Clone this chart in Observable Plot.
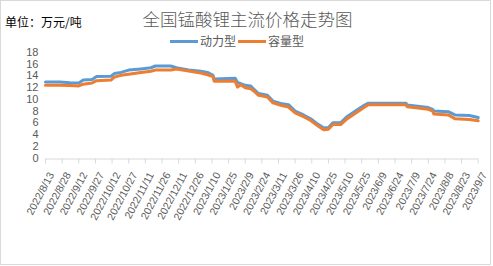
<!DOCTYPE html>
<html>
<head>
<meta charset="utf-8">
<script src="https://cdn.jsdelivr.net/npm/d3@7"></script>
<script src="https://cdn.jsdelivr.net/npm/@observablehq/plot@0.6"></script>
<style>
  html, body { margin: 0; padding: 0; background: #fff; }
  #wrap { position: relative; width: 493px; height: 266px; overflow: hidden; background: #fff; }
  #frame { position: absolute; left: 0; top: 0; width: 489px; height: 263px; border: 1px solid #d9d9d9; }
  #unit { position: absolute; left: 5px; top: 15px; font: 12px "Noto Sans CJK SC", sans-serif; color: #000; line-height: 14px; }
  #title { position: absolute; left: 0; width: 493px; top: 8px; text-align: center; padding-left: 1px;
           font: 300 17.5px "Noto Sans CJK SC", sans-serif; color: #595959; line-height: 22px; }
  #legend { position: absolute; left: 170px; top: 33px; font: 12px "Noto Sans CJK SC", sans-serif; color: #595959; line-height: 16px; white-space: nowrap; }
  .sw { display: inline-block; width: 28px; height: 3px; vertical-align: middle; margin-right: 2px; position: relative; top: -1px; }
  .item { display: inline-block; margin-right: 2px; }
  #plot { position: absolute; left: 0; top: 0; }
</style>
</head>
<body>
<div id="wrap">
  <div id="frame"></div>
  <div id="plot"></div>
  <div id="unit">单位：万元/吨</div>
  <div id="title">全国锰酸锂主流价格走势图</div>
  <div id="legend"></div>
</div>
<script>
// ---- data ----
const titleText = "全国锰酸锂主流价格走势图";
const unitText = "单位：万元/吨";
const seriesNames = ["动力型", "容量型"];
const seriesColors = ["#5B9BD5", "#ED7D31"];

const dates = [
  "2022-08-13","2022-08-26","2022-09-04","2022-09-12","2022-09-16","2022-09-24","2022-09-28",
  "2022-10-11","2022-10-14","2022-10-20","2022-10-27","2022-11-07","2022-11-16","2022-11-20",
  "2022-12-04","2022-12-09","2022-12-20","2022-12-31","2023-01-06","2023-01-11","2023-01-12",
  "2023-01-31","2023-02-02","2023-02-05","2023-02-09","2023-02-14","2023-02-17","2023-02-21",
  "2023-03-01","2023-03-06","2023-03-13","2023-03-20","2023-03-26","2023-04-03","2023-04-09",
  "2023-04-16","2023-04-21","2023-04-25","2023-04-29","2023-05-06","2023-05-12","2023-05-20",
  "2023-05-26","2023-05-31","2023-07-04","2023-07-05","2023-07-24","2023-07-28","2023-07-29",
  "2023-08-11","2023-08-17","2023-08-30","2023-09-07"
];
const powerType = [
  12.95,12.95,12.85,12.80,13.30,13.40,13.90,
  13.95,14.40,14.60,15.00,15.20,15.40,15.70,
  15.70,15.40,15.00,14.80,14.60,14.10,13.50,
  13.60,12.90,12.70,12.40,12.30,11.70,11.00,
  10.70,9.70,9.30,9.10,8.00,7.30,6.70,
  5.70,5.10,5.20,6.00,6.00,7.10,8.10,
  8.85,9.35,9.35,9.05,8.60,8.30,8.00,
  7.90,7.35,7.25,6.90
];
const capacityType = [
  12.40,12.40,12.35,12.30,12.60,12.80,13.20,
  13.30,13.80,14.10,14.30,14.60,14.80,15.00,
  15.00,15.20,14.85,14.50,14.20,13.90,13.10,
  13.10,12.10,12.50,12.00,11.80,11.40,10.70,
  10.40,9.40,9.00,8.70,7.70,7.00,6.40,
  5.40,4.80,4.90,5.70,5.70,6.70,7.70,
  8.50,9.10,9.10,8.75,8.30,8.00,7.50,
  7.35,6.70,6.55,6.35
];
const yTicks = [0, 2, 4, 6, 8, 10, 12, 14, 16, 18];
const xTickLabels = [
  "2022/8/13","2022/8/28","2022/9/12","2022/9/27","2022/10/12","2022/10/27","2022/11/11",
  "2022/11/26","2022/12/11","2022/12/26","2023/1/10","2023/1/25","2023/2/9","2023/2/24",
  "2023/3/11","2023/3/26","2023/4/10","2023/4/25","2023/5/10","2023/5/25","2023/6/9",
  "2023/6/24","2023/7/9","2023/7/24","2023/8/8","2023/8/23","2023/9/7"
];

// ---- build ----
const parseIso = d3.utcParse("%Y-%m-%d");
const parseTick = s => { const [y, m, d] = s.split("/").map(Number); return new Date(Date.UTC(y, m - 1, d)); };
const tickDates = xTickLabels.map(parseTick);
const tickRows = xTickLabels.map((s, i) => ({date: tickDates[i], label: s}));

const rows = [];
dates.forEach((d, i) => {
  rows.push({date: parseIso(d), value: powerType[i], series: seriesNames[0]});
});
dates.forEach((d, i) => {
  rows.push({date: parseIso(d), value: capacityType[i], series: seriesNames[1]});
});

const chart = Plot.plot({
  width: 493,
  height: 266,
  marginLeft: 45,
  marginRight: 15.3,
  marginTop: 52,
  marginBottom: 108.5,
  style: {fontFamily: "'Liberation Sans', Arial, sans-serif", color: "#595959", background: "transparent", overflow: "visible"},
  x: {type: "utc", domain: [tickDates[0], tickDates[tickDates.length - 1]], axis: null},
  y: {domain: [0, 18], axis: null},
  color: {domain: seriesNames, range: seriesColors},
  marks: [
    Plot.ruleY([0], {stroke: "#d9d9d9", strokeWidth: 1, dy: 1}),
    Plot.axisY({ticks: yTicks, tickSize: 0, tickPadding: 7, fontSize: 11, label: null}),
    Plot.axisX({ticks: tickDates, tickSize: 5, stroke: "#d9d9d9", strokeOpacity: 1, text: null, label: null, dy: 1}),
    Plot.text(tickRows, {x: "date", frameAnchor: "bottom", text: "label", rotate: -62,
                         textAnchor: "end", lineAnchor: "middle", fontSize: 10.5, fill: "#595959", dx: 6, dy: 15}),
    Plot.line(rows.filter(r => r.series === seriesNames[0]), {x: "date", y: "value", stroke: "series", strokeWidth: 3, strokeLinejoin: "round", strokeLinecap: "round"}),
    Plot.line(rows.filter(r => r.series === seriesNames[1]), {x: "date", y: "value", stroke: "series", strokeWidth: 3, strokeLinejoin: "round", strokeLinecap: "round"})
  ]
});
document.getElementById("plot").appendChild(chart);

document.getElementById("title").textContent = titleText;
document.getElementById("unit").textContent = unitText;
const legend = document.getElementById("legend");
seriesNames.forEach((name, i) => {
  const item = document.createElement("span");
  item.className = "item";
  const sw = document.createElement("span");
  sw.className = "sw";
  sw.style.background = seriesColors[i];
  item.appendChild(sw);
  item.appendChild(document.createTextNode(name));
  legend.appendChild(item);
});
</script>
</body>
</html>
